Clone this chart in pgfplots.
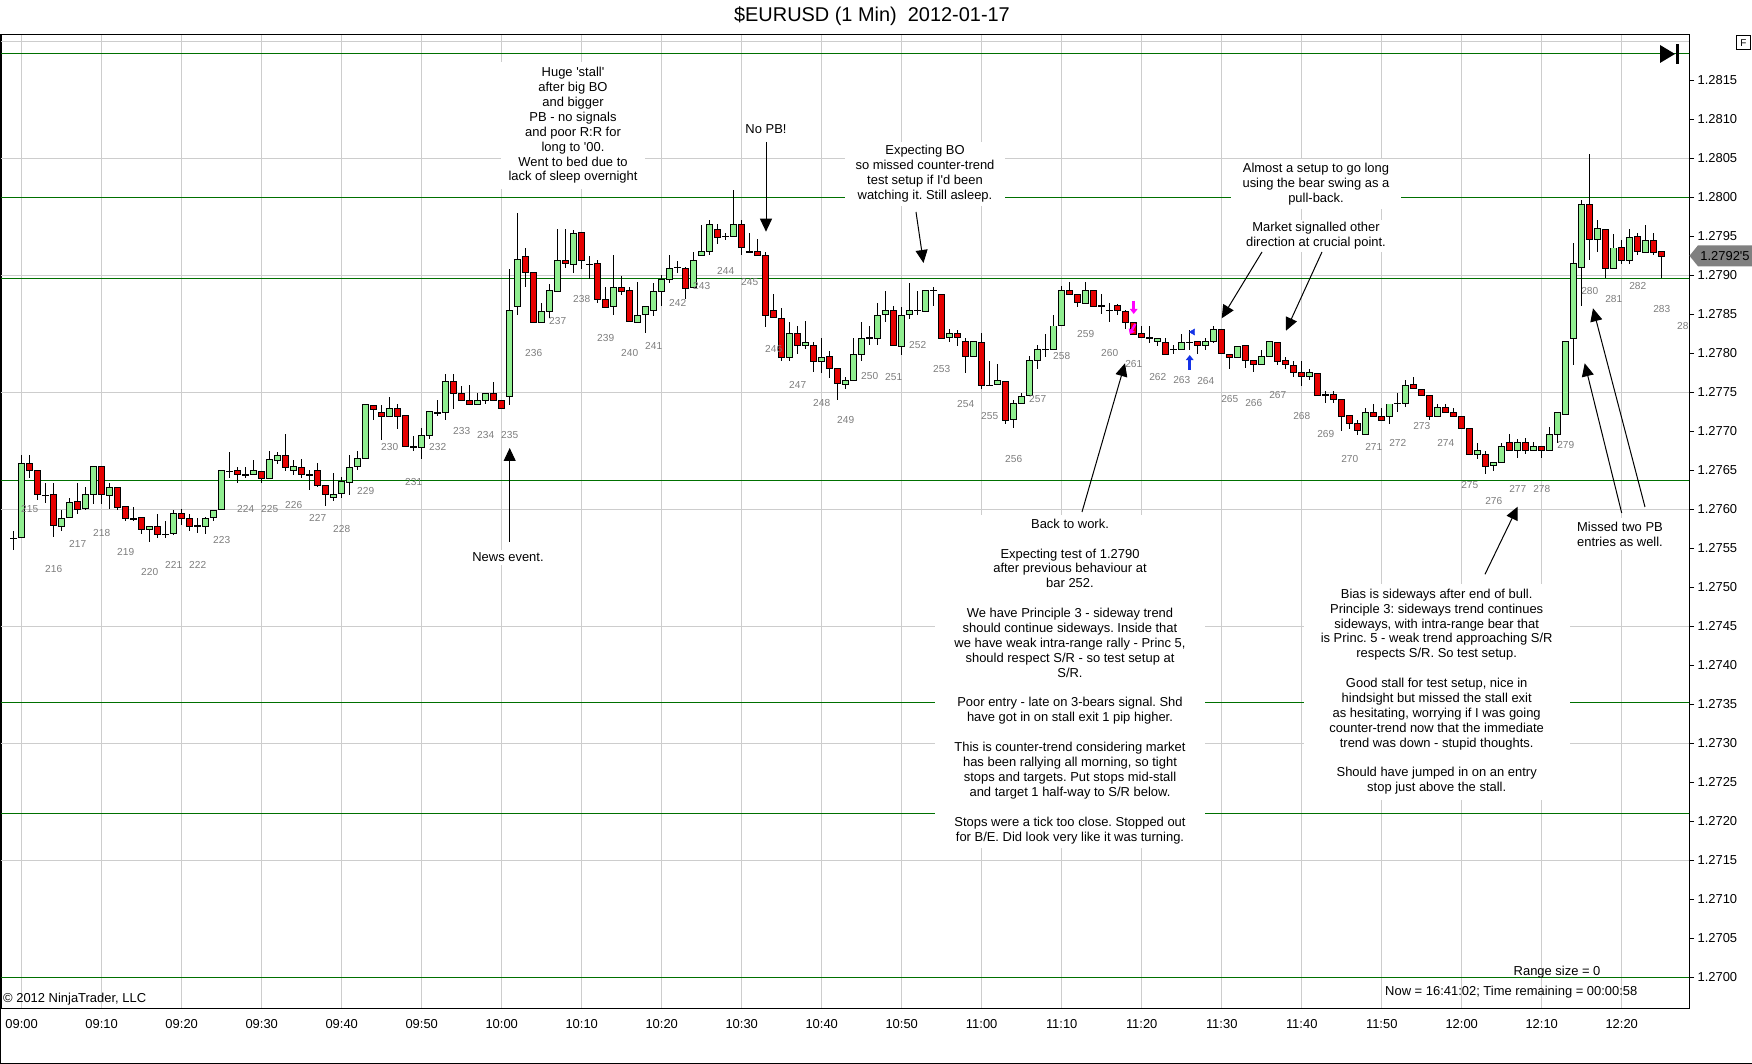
\documentclass[border=0pt]{standalone}
\usepackage{pgfplots}
\pgfplotsset{compat=1.18}
\usepackage{pgfplotstable}
\usepackage{fontspec}
\setmainfont{Liberation Sans}
\usetikzlibrary{arrows.meta}
\frenchspacing
\definecolor{upfill}{RGB}{144,238,144}
\definecolor{dnfill}{RGB}{230,0,0}
\definecolor{gridgray}{RGB}{205,205,205}
\definecolor{lgreen}{RGB}{0,112,0}
\definecolor{labgray}{RGB}{125,125,125}
\definecolor{sigblue}{RGB}{20,50,230}
\definecolor{sigmag}{RGB}{255,0,255}
\definecolor{markgray}{RGB}{128,128,128}
\newcommand{\annfont}{\fontsize{13}{14.95}\selectfont}
\newcommand{\tickfont}{\fontsize{13}{15}\selectfont}
\newcommand{\labfont}{\fontsize{10.2}{12}\selectfont}

% bullish (close >= open) 1-min candles: minute after 09:00, open, high, low, close
\pgfplotstableread{
m O H L C
-1 1.27564 1.27574 1.27549 1.27564
0 1.27564 1.27670 1.27564 1.27659
3 1.27619 1.27634 1.27609 1.27619
5 1.27579 1.27601 1.27574 1.27590
6 1.27590 1.27614 1.27590 1.27610
8 1.27600 1.27629 1.27600 1.27619
9 1.27619 1.27655 1.27609 1.27655
11 1.27619 1.27634 1.27600 1.27629
14 1.27589 1.27604 1.27585 1.27589
16 1.27574 1.27579 1.27559 1.27579
18 1.27569 1.27585 1.27564 1.27569
19 1.27569 1.27600 1.27569 1.27595
22 1.27579 1.27589 1.27569 1.27579
23 1.27579 1.27590 1.27569 1.27590
24 1.27590 1.27600 1.27585 1.27600
25 1.27600 1.27650 1.27600 1.27650
26 1.27650 1.27675 1.27641 1.27650
28 1.27645 1.27655 1.27641 1.27645
29 1.27645 1.27664 1.27645 1.27650
31 1.27640 1.27675 1.27640 1.27664
32 1.27664 1.27675 1.27659 1.27670
34 1.27650 1.27664 1.27645 1.27655
36 1.27645 1.27652 1.27626 1.27645
39 1.27615 1.27646 1.27610 1.27620
40 1.27620 1.27641 1.27615 1.27636
41 1.27636 1.27671 1.27620 1.27655
42 1.27655 1.27675 1.27651 1.27665
43 1.27665 1.27735 1.27664 1.27735
46 1.27720 1.27745 1.27720 1.27730
49 1.27680 1.27694 1.27675 1.27680
50 1.27680 1.27704 1.27664 1.27695
51 1.27695 1.27725 1.27690 1.27725
52 1.27725 1.27740 1.27720 1.27725
53 1.27725 1.27775 1.27715 1.27765
57 1.27735 1.27749 1.27735 1.27740
58 1.27740 1.27749 1.27735 1.27749
61 1.27745 1.27910 1.27735 1.27855
62 1.27860 1.27981 1.27850 1.27920
65 1.27841 1.27865 1.27841 1.27855
66 1.27855 1.27890 1.27846 1.27881
67 1.27881 1.27960 1.27881 1.27920
69 1.27915 1.27960 1.27905 1.27955
71 1.27915 1.27926 1.27896 1.27915
74 1.27860 1.27926 1.27849 1.27885
77 1.27841 1.27891 1.27841 1.27850
78 1.27850 1.27860 1.27826 1.27860
79 1.27855 1.27891 1.27849 1.27880
80 1.27880 1.27900 1.27860 1.27896
81 1.27896 1.27926 1.27891 1.27910
82 1.27910 1.27920 1.27905 1.27910
84 1.27885 1.27931 1.27885 1.27920
85 1.27926 1.27966 1.27926 1.27931
86 1.27931 1.27971 1.27926 1.27966
88 1.27950 1.27955 1.27946 1.27950
89 1.27950 1.28010 1.27950 1.27965
91 1.27931 1.27955 1.27931 1.27931
96 1.27796 1.27841 1.27791 1.27826
98 1.27811 1.27841 1.27805 1.27815
100 1.27791 1.27820 1.27776 1.27796
103 1.27761 1.27770 1.27755 1.27766
104 1.27766 1.27820 1.27766 1.27800
105 1.27800 1.27841 1.27790 1.27820
106 1.27820 1.27836 1.27811 1.27820
107 1.27820 1.27865 1.27811 1.27850
108 1.27850 1.27880 1.27841 1.27855
110 1.27810 1.27861 1.27799 1.27850
111 1.27850 1.27892 1.27845 1.27855
112 1.27855 1.27881 1.27850 1.27855
113 1.27855 1.27881 1.27855 1.27881
114 1.27881 1.27886 1.27861 1.27881
116 1.27820 1.27831 1.27815 1.27826
119 1.27796 1.27815 1.27796 1.27815
121 1.27760 1.27791 1.27760 1.27760
122 1.27760 1.27786 1.27760 1.27765
124 1.27715 1.27741 1.27705 1.27736
125 1.27736 1.27750 1.27736 1.27746
126 1.27746 1.27796 1.27746 1.27791
127 1.27791 1.27811 1.27781 1.27806
128 1.27806 1.27826 1.27796 1.27806
129 1.27806 1.27850 1.27806 1.27836
130 1.27836 1.27886 1.27836 1.27881
133 1.27865 1.27892 1.27865 1.27881
135 1.27861 1.27876 1.27850 1.27861
136 1.27855 1.27865 1.27841 1.27855
141 1.27820 1.27836 1.27815 1.27820
142 1.27815 1.27820 1.27810 1.27820
144 1.27806 1.27811 1.27800 1.27806
145 1.27806 1.27826 1.27806 1.27815
146 1.27815 1.27831 1.27805 1.27815
148 1.27810 1.27820 1.27805 1.27815
149 1.27815 1.27836 1.27815 1.27831
152 1.27796 1.27810 1.27796 1.27810
155 1.27786 1.27805 1.27786 1.27796
156 1.27796 1.27815 1.27796 1.27815
161 1.27771 1.27781 1.27766 1.27776
163 1.27747 1.27751 1.27736 1.27747
168 1.27696 1.27731 1.27696 1.27725
171 1.27720 1.27736 1.27710 1.27736
172 1.27736 1.27750 1.27725 1.27736
173 1.27736 1.27766 1.27731 1.27760
177 1.27720 1.27736 1.27720 1.27731
182 1.27671 1.27686 1.27665 1.27676
184 1.27656 1.27661 1.27650 1.27661
185 1.27661 1.27686 1.27661 1.27681
187 1.27676 1.27691 1.27666 1.27686
189 1.27676 1.27686 1.27676 1.27681
191 1.27676 1.27706 1.27676 1.27696
192 1.27696 1.27725 1.27686 1.27725
193 1.27722 1.27816 1.27722 1.27816
194 1.27820 1.27942 1.27786 1.27915
195 1.27910 1.27997 1.27861 1.27991
197 1.27946 1.27971 1.27930 1.27960
199 1.27910 1.27955 1.27910 1.27936
201 1.27920 1.27960 1.27915 1.27950
203 1.27931 1.27965 1.27931 1.27946
}\bull

% bearish (close < open) candles
\pgfplotstableread{
m O H L C
1 1.27659 1.27670 1.27641 1.27650
2 1.27650 1.27650 1.27614 1.27619
4 1.27619 1.27634 1.27564 1.27579
7 1.27610 1.27634 1.27595 1.27600
10 1.27655 1.27655 1.27609 1.27619
12 1.27629 1.27629 1.27600 1.27604
13 1.27604 1.27604 1.27585 1.27589
15 1.27590 1.27590 1.27569 1.27574
17 1.27579 1.27595 1.27564 1.27569
20 1.27595 1.27600 1.27579 1.27589
21 1.27589 1.27595 1.27574 1.27579
27 1.27650 1.27655 1.27635 1.27645
30 1.27650 1.27650 1.27635 1.27640
33 1.27670 1.27697 1.27650 1.27655
35 1.27655 1.27665 1.27641 1.27645
37 1.27651 1.27660 1.27629 1.27631
38 1.27631 1.27631 1.27605 1.27620
44 1.27735 1.27735 1.27715 1.27730
45 1.27725 1.27735 1.27690 1.27720
47 1.27730 1.27735 1.27704 1.27720
48 1.27720 1.27720 1.27680 1.27680
54 1.27765 1.27775 1.27730 1.27749
55 1.27749 1.27759 1.27740 1.27740
56 1.27740 1.27759 1.27735 1.27735
59 1.27749 1.27765 1.27740 1.27740
60 1.27740 1.27740 1.27730 1.27730
63 1.27926 1.27936 1.27885 1.27905
64 1.27905 1.27905 1.27841 1.27841
68 1.27920 1.27960 1.27910 1.27915
70 1.27955 1.27955 1.27910 1.27920
72 1.27915 1.27920 1.27865 1.27870
73 1.27870 1.27885 1.27860 1.27860
75 1.27885 1.27900 1.27875 1.27880
76 1.27881 1.27885 1.27841 1.27841
83 1.27910 1.27910 1.27870 1.27885
87 1.27960 1.27966 1.27941 1.27950
90 1.27965 1.27971 1.27926 1.27936
92 1.27931 1.27946 1.27926 1.27926
93 1.27926 1.27931 1.27835 1.27850
94 1.27855 1.27876 1.27846 1.27846
95 1.27846 1.27860 1.27791 1.27796
97 1.27826 1.27836 1.27800 1.27811
99 1.27811 1.27815 1.27776 1.27791
101 1.27796 1.27805 1.27770 1.27781
102 1.27781 1.27781 1.27740 1.27761
109 1.27855 1.27861 1.27810 1.27810
115 1.27876 1.27876 1.27820 1.27820
117 1.27826 1.27831 1.27810 1.27820
118 1.27815 1.27820 1.27775 1.27796
120 1.27815 1.27826 1.27755 1.27760
123 1.27765 1.27765 1.27710 1.27715
131 1.27881 1.27892 1.27876 1.27876
132 1.27876 1.27876 1.27861 1.27865
134 1.27881 1.27881 1.27861 1.27861
137 1.27861 1.27865 1.27850 1.27855
138 1.27855 1.27855 1.27831 1.27841
139 1.27841 1.27841 1.27826 1.27826
140 1.27826 1.27836 1.27820 1.27820
143 1.27815 1.27820 1.27800 1.27800
147 1.27815 1.27815 1.27800 1.27810
150 1.27831 1.27831 1.27800 1.27800
151 1.27800 1.27800 1.27781 1.27796
153 1.27810 1.27810 1.27781 1.27791
154 1.27791 1.27791 1.27776 1.27786
157 1.27815 1.27815 1.27786 1.27791
158 1.27791 1.27796 1.27781 1.27786
159 1.27786 1.27791 1.27771 1.27776
160 1.27776 1.27791 1.27760 1.27771
162 1.27776 1.27776 1.27747 1.27747
164 1.27747 1.27751 1.27736 1.27741
165 1.27741 1.27741 1.27701 1.27720
166 1.27720 1.27720 1.27705 1.27710
167 1.27710 1.27715 1.27696 1.27701
169 1.27725 1.27736 1.27720 1.27720
170 1.27720 1.27731 1.27715 1.27715
174 1.27760 1.27771 1.27755 1.27755
175 1.27755 1.27755 1.27747 1.27747
176 1.27747 1.27747 1.27715 1.27720
178 1.27731 1.27736 1.27725 1.27725
179 1.27725 1.27731 1.27720 1.27720
180 1.27720 1.27720 1.27705 1.27705
181 1.27705 1.27705 1.27671 1.27671
183 1.27671 1.27676 1.27646 1.27656
186 1.27686 1.27697 1.27676 1.27676
188 1.27686 1.27691 1.27671 1.27676
190 1.27681 1.27681 1.27666 1.27676
196 1.27991 1.28056 1.27920 1.27946
198 1.27960 1.27960 1.27897 1.27910
200 1.27936 1.27946 1.27915 1.27920
202 1.27950 1.27955 1.27926 1.27931
204 1.27946 1.27955 1.27926 1.27931
205 1.27931 1.27931 1.27897 1.27925
}\bear

% bar-count labels (every third bar, placed below the bar low)
\pgfplotstableread{
m y lab
1 1.27601 215
4 1.27524 216
7 1.27555 217
10 1.27569 218
13 1.27545 219
16 1.27519 220
19 1.27529 221
22 1.27529 222
25 1.27560 223
28 1.27601 224
31 1.27600 225
34 1.27605 226
37 1.27589 227
40 1.27575 228
43 1.27624 229
46 1.27680 230
49 1.27635 231
52 1.27680 232
55 1.27700 233
58 1.27695 234
61 1.27695 235
64 1.27801 236
67 1.27841 237
70 1.27870 238
73 1.27820 239
76 1.27801 240
79 1.27809 241
82 1.27865 242
85 1.27886 243
88 1.27906 244
91 1.27891 245
94 1.27806 246
97 1.27760 247
100 1.27736 248
103 1.27715 249
106 1.27771 250
109 1.27770 251
112 1.27810 252
115 1.27780 253
118 1.27735 254
121 1.27720 255
124 1.27665 256
127 1.27741 257
130 1.27796 258
133 1.27825 259
136 1.27801 260
139 1.27786 261
142 1.27770 262
145 1.27766 263
148 1.27765 264
151 1.27741 265
154 1.27736 266
157 1.27746 267
160 1.27720 268
163 1.27696 269
166 1.27665 270
169 1.27680 271
172 1.27685 272
175 1.27707 273
178 1.27685 274
181 1.27631 275
184 1.27610 276
187 1.27626 277
190 1.27626 278
193 1.27682 279
196 1.27880 280
199 1.27870 281
202 1.27886 282
205 1.27857 283
}\barlabels

\newcommand{\candles}[2]{%
 \addplot[draw=none, no markers, forget plot, error bars/.cd, y dir=both, y explicit, error mark=none,
   error bar style={draw=black, line width=1bp}]
   table[x=m, y expr={(\thisrow{H}+\thisrow{L})/2},
     y error plus expr={(\thisrow{H}-\thisrow{L})/2},
     y error minus expr={(\thisrow{H}-\thisrow{L})/2}] {#1};
 \addplot[draw=none, no markers, forget plot, error bars/.cd, y dir=both, y explicit, error mark=none,
   error bar style={draw=black, line width=6.6bp}]
   table[x=m, y expr={(\thisrow{O}+\thisrow{C})/2},
     y error plus expr={abs(\thisrow{C}-\thisrow{O})/2+0.0000064},
     y error minus expr={abs(\thisrow{C}-\thisrow{O})/2+0.0000064}] {#1};
 \addplot[draw=none, no markers, forget plot, error bars/.cd, y dir=both, y explicit, error mark=none,
   error bar style={draw=#2, line width=4.6bp}]
   table[x=m, y expr={(\thisrow{O}+\thisrow{C})/2},
     y error plus expr={max(abs(\thisrow{C}-\thisrow{O})/2-0.0000064,0)},
     y error minus expr={max(abs(\thisrow{C}-\thisrow{O})/2-0.0000064,0)}] {#1};
}

\tikzset{
 ann/.style={font=\annfont, align=center, text=black},
 arr/.style={black, line width=1bp, -{Triangle[length=13bp,width=12bp]}},
}

\begin{document}
\begin{tikzpicture}
\useasboundingbox (0,0) rectangle (1752bp,1064bp);
\begin{axis}[
  at={(1bp,56bp)}, anchor=south west,
  scale only axis, width=1688bp, height=973.5bp,
  xmin=-2.5875, xmax=208.4125,
  ymin=1.2696064, ymax=1.2820872,
  axis line style={black, line width=1bp},
  xtick={0,10,...,200},
  xticklabels={09:00,09:10,09:20,09:30,09:40,09:50,10:00,10:10,10:20,10:30,10:40,10:50,11:00,11:10,11:20,11:30,11:40,11:50,12:00,12:10,12:20},
  xtick style={draw=none},
  xmajorgrids=true,
  ytick={1.2700,1.2705,1.2710,1.2715,1.2720,1.2725,1.2730,1.2735,1.2740,1.2745,1.2750,1.2755,1.2760,1.2765,1.2770,1.2775,1.2780,1.2785,1.2790,1.2795,1.2800,1.2805,1.2810,1.2815},
  ytick pos=right, yticklabel pos=right,
  tick align=outside, major tick length=5bp,
  ytick style={black, line width=1bp},
  scaled y ticks=false,
  /pgf/number format/assume math mode=true,
  yticklabel style={/pgf/number format/.cd, fixed, fixed zerofill, precision=4, /tikz/.cd, font=\tickfont, text=black},
  xticklabel style={font=\tickfont, text=black, yshift=-3bp},
  extra y ticks={1.2700,1.2715,1.2730,1.2745,1.2760,1.2775,1.2790,1.2805,1.2820},
  extra y tick style={grid=major, major tick length=0pt, yticklabel={}, yticklabel style={opacity=0}},
  grid style={gridgray, line width=1bp},
]
% horizontal support / resistance lines
\addplot[lgreen, line width=1bp, forget plot] coordinates {(-3,1.281845) (210,1.281845)};
\addplot[lgreen, line width=1bp, forget plot] coordinates {(-3,1.28000) (210,1.28000)};
\addplot[lgreen, line width=1bp, forget plot] coordinates {(-3,1.278965) (210,1.278965)};
\addplot[lgreen, line width=1bp, forget plot] coordinates {(-3,1.276363) (210,1.276363)};
\addplot[lgreen, line width=1bp, forget plot] coordinates {(-3,1.273525) (210,1.273525)};
\addplot[lgreen, line width=1bp, forget plot] coordinates {(-3,1.272100) (210,1.272100)};
\addplot[lgreen, line width=1bp, forget plot] coordinates {(-3,1.270000) (210,1.270000)};
% bar numbers
\addplot[draw=none, no markers, forget plot, nodes near coords, point meta=explicit symbolic,
  nodes near coords style={anchor=center, font=\labfont, text=labgray, inner sep=0pt}]
  table[x=m, y=y, meta=lab] {\barlabels};
% candles
\candles{\bull}{upfill}
\candles{\bear}{dnfill}
% signal arrows
\addplot[sigmag, line width=2.6bp, forget plot, -{Triangle[length=5bp,width=7.5bp]}] coordinates {(139,1.278674) (139,1.278504)};
\addplot[sigmag, line width=2.4bp, forget plot, -{Triangle[length=4.5bp,width=7bp]}] coordinates {(139.2,1.278376) (138.5,1.278247)};
\addplot[sigblue, line width=2.6bp, forget plot, -{Triangle[length=5bp,width=7.5bp]}] coordinates {(146,1.277786) (146,1.277978)};
\addplot[only marks, forget plot, mark=triangle*, mark size=3.6bp, mark options={rotate=90, fill=sigblue, draw=sigblue}] coordinates {(146.4,1.278273)};
\end{axis}

\begin{scope}[x=1bp, y=-1bp, shift={(0bp,1064bp)}]
% frame
\draw[black, line width=1bp] (0.5,34.5) -- (0.5,1063.5) -- (1752,1063.5);
% title
\node[font=\fontsize{20}{24}\selectfont] at (872,16) {\$EURUSD (1 Min)\ \ 2012-01-17};
% annotations
\node[ann, fill=white, inner xsep=8bp, inner ysep=5bp] at (573,125.5)
 {Huge \textquotesingle stall\textquotesingle\\after big BO\\and bigger\\PB - no signals\\and poor R:R for\\long to \textquotesingle 00.\\Went to bed due to\\lack of sleep overnight};
\node[ann, fill=white, inner sep=2bp] at (766,129.3) {No PB!};
\draw[arr] (766,142) -- (766,231.7);
\node[ann, fill=white, inner xsep=11bp, inner ysep=4bp] at (925,174)
 {Expecting BO\\so missed counter-trend\\test setup if I\textquotesingle d been\\watching it. Still asleep.};
\draw[arr] (916,212) -- (923.5,263);
\node[ann, fill=white, inner xsep=12bp, inner ysep=4bp] at (1316,184)
 {Almost a setup to go long\\using the bear swing as a\\pull-back.};
\node[ann, fill=white, inner xsep=6bp, inner ysep=3bp] at (1316,236)
 {Market signalled other\\direction at crucial point.};
\draw[arr] (1262,252) -- (1221.7,318.3);
\draw[arr] (1322,252) -- (1286,330.7);
\node[ann, fill=white, inner xsep=19bp, inner ysep=4bp] at (1070,681.3)
 {Back to work.\\[14.95pt]
  Expecting test of 1.2790\\after previous behaviour at\\bar 252.\\[14.95pt]
  We have Principle 3 - sideway trend\\should continue sideways. Inside that\\we have weak intra-range rally - Princ 5,\\should respect S/R - so test setup at\\S/R.\\[14.95pt]
  Poor entry - late on 3-bears signal. Shd\\have got in on stall exit 1 pip higher.\\[14.95pt]
  This is counter-trend considering market\\has been rallying all morning, so tight\\stops and targets. Put stops mid-stall\\and target 1 half-way to S/R below.\\[14.95pt]
  Stops were a tick too close. Stopped out\\for B/E. Did look very like it was turning.};
\draw[arr] (1082,512) -- (1125,363.3);
\node[ann, fill=white, inner sep=3bp] at (508,557.5) {News event.};
\draw[arr] (509.7,542) -- (509.7,448);
\node[ann, fill=white, inner xsep=17bp, inner ysep=5bp] at (1436.7,691.7)
 {Bias is sideways after end of bull.\\Principle 3: sideways trend continues\\sideways, with intra-range bear that\\is Princ. 5 - weak trend approaching S/R\\respects S/R. So test setup.\\[14.95pt]
  Good stall for test setup, nice in\\hindsight but missed the stall exit\\as hesitating, worrying if I was going\\counter-trend now that the immediate\\trend was down - stupid thoughts.\\[14.95pt]
  Should have jumped in on an entry\\stop just above the stall.};
\draw[arr] (1485,574.3) -- (1517.7,506.7);
\node[ann, fill=white, inner xsep=5bp, inner ysep=4bp] at (1620,534) {Missed two PB\\entries as well.};
\draw[arr] (1621.7,513) -- (1584.7,363.3);
\draw[arr] (1645,507) -- (1593,308.3);
% clipped last bar number
\node[anchor=west, font=\labfont, text=labgray, inner sep=0pt] at (1677,325.7) {28};
% status texts
\node[anchor=west, font=\tickfont, inner sep=0pt] at (1513.5,972) {Range size = 0};
\node[anchor=west, font=\tickfont, inner sep=0pt] at (1385,992) {Now = 16:41:02; Time remaining = 00:00:58};
\node[anchor=west, font=\tickfont, inner sep=0pt] at (3,999) {\textcopyright{} 2012 NinjaTrader, LLC};
% current price marker
\fill[markgray] (1689.5,255.8) -- (1698,245.3) -- (1752,245.3) -- (1752,266.3) -- (1698,266.3) -- cycle;
\node[font=\tickfont, text=black] at (1725,256) {1.2792\textquotesingle 5};
% chart-end icon and F box
\fill[black] (1660,45) -- (1675,54) -- (1660,63) -- cycle;
\fill[black] (1676,44) rectangle (1679,64);
\draw[black, line width=1bp] (1736,36) rectangle (1750.5,50);
\node[font=\fontsize{10}{12}\selectfont] at (1743.3,43) {F};
\end{scope}
\end{tikzpicture}
\end{document}
